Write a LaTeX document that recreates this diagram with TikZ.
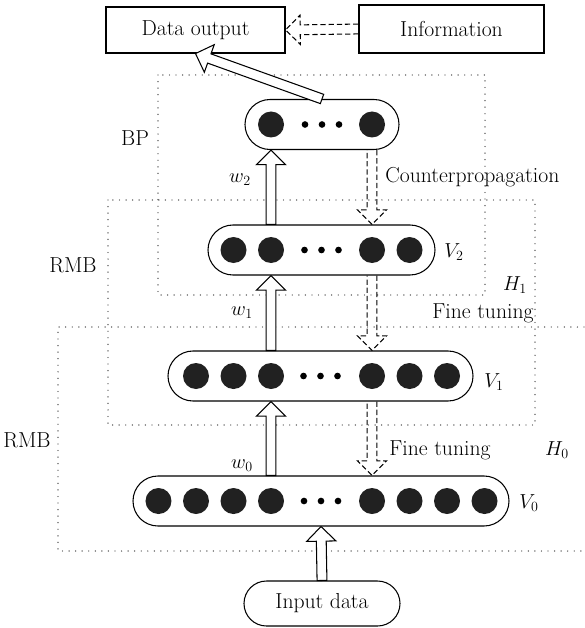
\documentclass[tikz,border=0pt]{standalone}
\usetikzlibrary{calc, shapes.misc}

\newcommand{\arrowshaft}{4.2pt}
\newcommand{\arrowhead}{12.5pt}
\newcommand{\arrowlen}{12.5pt}
\newcommand{\hollowarrow}[2]{%
  \draw[fill=white] ($(#1)!\arrowshaft!90:(#2)$)
    -- ($(#2)!\arrowlen!(#1)!\arrowshaft!-90:(#1)$)
    -- ($(#2)!\arrowlen!(#1)!\arrowhead!-90:(#1)$)
    -- (#2)
    -- ($(#2)!\arrowlen!(#1)!\arrowhead!90:(#1)$)
    -- ($(#2)!\arrowlen!(#1)!\arrowshaft!90:(#1)$)
    -- ($(#1)!\arrowshaft!-90:(#2)$) -- cycle;}
\newcommand{\dashedarrow}[2]{%
  \draw[dash pattern=on 4.5pt off 2.5pt] ($(#1)!\arrowshaft!90:(#2)$)
    -- ($(#2)!\arrowlen!(#1)!\arrowshaft!-90:(#1)$)
    -- ($(#2)!\arrowlen!(#1)!\arrowhead!-90:(#1)$)
    -- (#2)
    -- ($(#2)!\arrowlen!(#1)!\arrowhead!90:(#1)$)
    -- ($(#2)!\arrowlen!(#1)!\arrowshaft!90:(#1)$)
    -- ($(#1)!\arrowshaft!-90:(#2)$);}

\begin{document}
\begin{tikzpicture}[x=0.03cm,y=-0.03cm,line width=0.9pt,node distance=1.125cm,
  every node/.style={font=\fontsize{18.5}{22}\selectfont},
  box/.style={draw,rectangle,inner sep=0pt},
  layer/.style={draw,rounded rectangle,minimum height=1.5cm,inner sep=0pt},
  unit/.style={circle,fill=black!87,minimum size=0.78cm,inner sep=0pt},
  region/.style={line width=1.2pt,line cap=round,dash pattern=on 0pt off 5.6pt,black!75}]
  \useasboundingbox (0,0) rectangle (584,628);
  \draw[region] (158,75) rectangle (485,295);
  \draw[region] (108,200) rectangle (535,425);
  \draw[region] (584,327) -- (58,327) -- (58,551) -- (584,551);

  \node[box,minimum width=5.37cm,minimum height=1.38cm] (out) at (195.5,30) {Data output};
  \node[box,minimum width=5.55cm,minimum height=1.44cm] (info) at (451.5,29) {Information};
  \node[layer,minimum width=4.62cm] (top) at (322,124.5) {};
  \node[layer,minimum width=6.81cm] (v2) at (321.5,250) {};
  \node[layer,minimum width=9.15cm] (v1) at (320.5,376) {};
  \node[layer,minimum width=11.28cm] (v0) at (321,501) {};
  \node[layer,minimum width=4.68cm,minimum height=1.35cm] (input) at (322,603.5) {Input data};

  \node[unit] (ta) at (271,124.5) {};
  \node[unit] (tb) at (372,124.5) {};
  \node[unit] (v2b) at (271,250) {};
  \node[unit] (v2a) [left of=v2b] {};
  \node[unit] (v2c) at (372,250) {};
  \node[unit] (v2d) [right of=v2c] {};
  \node[unit] (v1c) at (271,376) {};
  \node[unit] (v1b) [left of=v1c] {};
  \node[unit] (v1a) [left of=v1b] {};
  \node[unit] (v1d) at (372,376) {};
  \node[unit] (v1e) [right of=v1d] {};
  \node[unit] (v1f) [right of=v1e] {};
  \node[unit] (v0d) at (271,501) {};
  \node[unit] (v0c) [left of=v0d] {};
  \node[unit] (v0b) [left of=v0c] {};
  \node[unit] (v0a) [left of=v0b] {};
  \node[unit] (v0e) at (372,501) {};
  \node[unit] (v0f) [right of=v0e] {};
  \node[unit] (v0g) [right of=v0f] {};
  \node[unit] (v0h) [right of=v0g] {};
  \fill ([xshift=-0.51cm]top.center) circle (0.1cm) (top.center) circle (0.1cm) ([xshift=0.51cm]top.center) circle (0.1cm);
  \fill ([xshift=-0.51cm]v2.center) circle (0.1cm) (v2.center) circle (0.1cm) ([xshift=0.51cm]v2.center) circle (0.1cm);
  \fill ([xshift=-0.51cm]v1.center) circle (0.1cm) (v1.center) circle (0.1cm) ([xshift=0.51cm]v1.center) circle (0.1cm);
  \fill ([xshift=-0.51cm]v0.center) circle (0.1cm) (v0.center) circle (0.1cm) ([xshift=0.51cm]v0.center) circle (0.1cm);

  \node (bp) at (135,138) {BP};
  \node (rmba) at (73,265) {RMB};
  \node (rmbb) at (27,440) {RMB};
  \node (w2) at (240,180) {$w_2$};
  \node (w1) at (242,313) {$w_1$};
  \node (w0) at (242,466) {$w_0$};
  \node (lv2) at (454,252) {$V_2$};
  \node (lv1) at (494,382) {$V_1$};
  \node (lv0) at (529,503) {$V_0$};
  \node (h1) at (515,285) {$H_1$};
  \node (h0) at (557,450) {$H_0$};
  \node[anchor=west] (cp) at (381,177) {Counterpropagation};
  \node (fta) at (483,313) {Fine tuning};
  \node (ftb) at (440,450) {Fine tuning};

  \hollowarrow{top.north}{out.south}
  \dashedarrow{info.west}{out.east}
  \hollowarrow{v2.north -| v2b}{top.south -| v2b}
  \hollowarrow{v1.north -| v1c}{v2.south -| v1c}
  \hollowarrow{v0.north -| v0d}{v1.south -| v0d}
  \hollowarrow{input.north}{v0.south}
  \dashedarrow{top.south -| tb}{v2.north -| tb}
  \dashedarrow{v2.south -| v2c}{v1.north -| v2c}
  \dashedarrow{v1.south -| v1d}{v0.north -| v1d}
\end{tikzpicture}
\end{document}
